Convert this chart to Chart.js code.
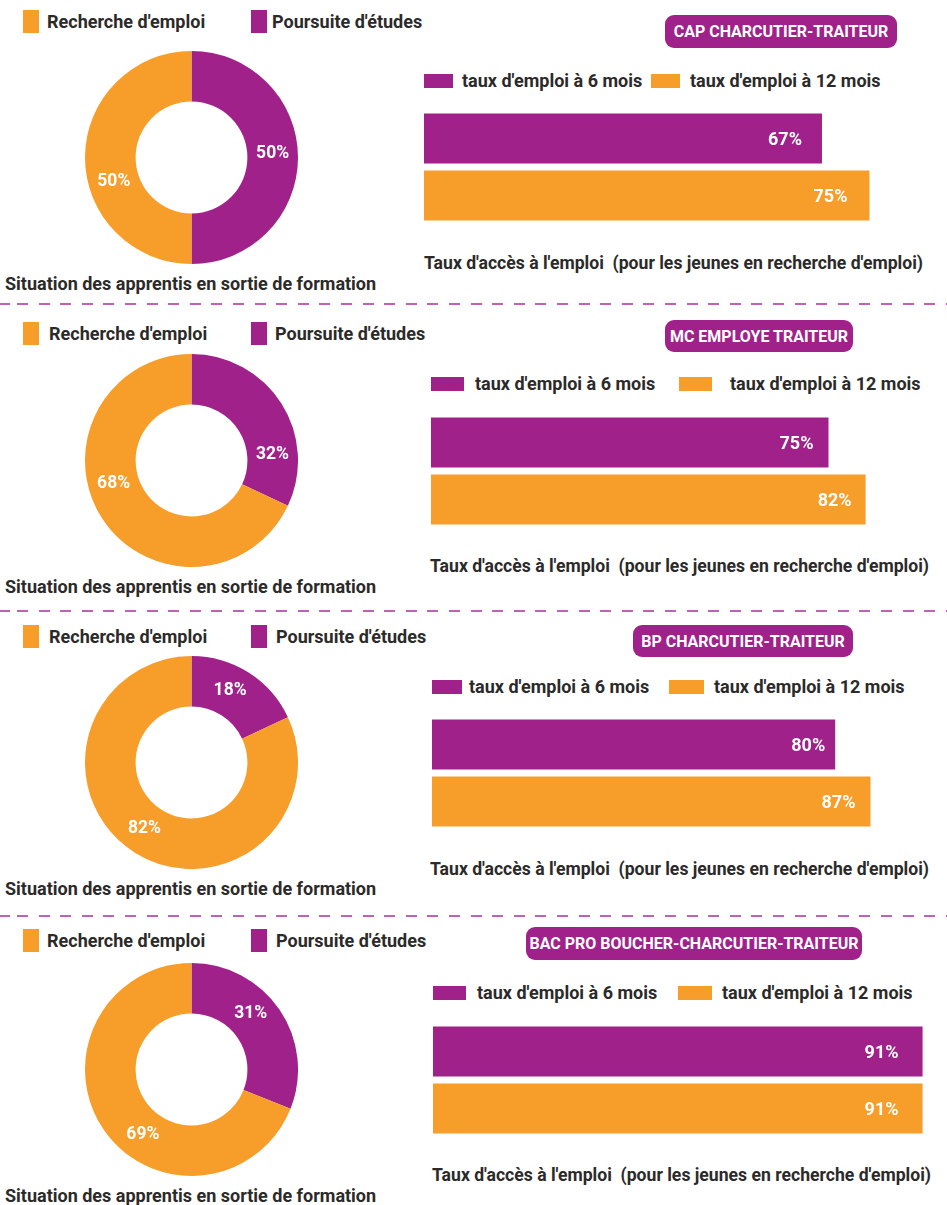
<!DOCTYPE html>
<html lang="fr">
<head>
<meta charset="utf-8">
<title>Situation des apprentis</title>
<script src="https://cdn.jsdelivr.net/npm/chart.js@4.4.1/dist/chart.umd.min.js"></script>
<style>
  html, body { margin: 0; padding: 0; background: #fff; }
  #page { position: relative; width: 947px; height: 1205px; overflow: hidden; font-family: Roboto, 'Noto Sans', sans-serif; font-weight: 700; color: #2b2a29; }
  .abs { position: absolute; }
  .txt { position: absolute; font-size: 18px; line-height: 20px; white-space: pre; }
  .foot { font-size: 17.6px; }
  .box { position: absolute; }
  .badge { position: absolute; background: #a02189; color: #fff; border-radius: 9px; font-size: 16px; display: flex; align-items: center; justify-content: center; white-space: nowrap; }
  .sep { position: absolute; left: 0; width: 947px; height: 2px;
         background: repeating-linear-gradient(90deg, #c062b4 0 11px, transparent 11px 21.6px);
         background-position: 17px 0; }
</style>
</head>
<body>
<div id="page"></div>
<script>
// data
const formations = ['CAP CHARCUTIER-TRAITEUR', 'MC EMPLOYE TRAITEUR', 'BP CHARCUTIER-TRAITEUR', 'BAC PRO BOUCHER-CHARCUTIER-TRAITEUR'];
const situationLabels = ["Poursuite d'études", "Recherche d'emploi"];
const poursuite = [50, 32, 18, 31];
const recherche = [50, 68, 82, 69];
const emploiLabels = ["taux d'emploi à 6 mois", "taux d'emploi à 12 mois"];
const emploi6 = [67, 75, 80, 91];
const emploi12 = [75, 82, 87, 91];
const situationTitle = 'Situation des apprentis en sortie de formation';
const emploiTitle = "Taux d'accès à l'emploi  (pour les jeunes en recherche d'emploi)";

const PURPLE = '#a02189';
const ORANGE = '#f79d29';

// layout of each block (pixels)
// labShift = degrees added to the slice mid angle for its % label, labInset = gap between bar end and its label
const layouts = [
  { cy: 157.5, legTop: 10, legTx: [47, 272], titleY: 284, badge: [665, 15, 232, 33], blTop: 74, bl: [424, 29, 462, 651, 29, 690], barX: 424, barTop: 113, scale: 5.94, footX: 424, footY: 263, labShift: [-3, -17], labInset: [20, 22] },
  { cy: 460.5, legTop: 322, legTx: [49, 275], titleY: 587, badge: [665, 320, 188, 32], blTop: 377, bl: [431, 33, 475, 679, 33, 730], barX: 431, barTop: 417, scale: 5.3, footX: 430, footY: 566, labShift: [28, 16], labInset: [15, 14] },
  { cy: 762.5, legTop: 625, legTx: [49, 276], titleY: 889, badge: [633, 625, 220, 32], blTop: 680, bl: [432, 30, 469, 669, 35, 714], barX: 432, barTop: 719, scale: 5.04, footX: 430, footY: 869, labShift: [-4, 3], labInset: [10, 15] },
  { cy: 1069, legTop: 929, legTx: [47, 276], titleY: 1196, badge: [526, 927, 336, 33], blTop: 986, bl: [433, 33, 477, 678, 34, 722], barX: 433, barTop: 1026, scale: 5.38, footX: 432, footY: 1175, labShift: [-9, -19], labInset: [24, 24] }
];
const separators = [302.5, 609.5, 914.5];

const page = document.getElementById('page');

function el(cls, css, text) {
  const d = document.createElement('div');
  d.className = cls;
  Object.assign(d.style, css);
  if (text) d.textContent = text;
  page.appendChild(d);
  return d;
}

// percent labels drawn on the arcs / bars
const arcLabels = {
  id: 'arcLabels',
  afterDatasetsDraw(chart, args, opts) {
    const ctx = chart.ctx;
    const meta = chart.getDatasetMeta(0);
    const shift = opts.shift || [];
    ctx.save();
    ctx.fillStyle = '#fff';
    ctx.font = 'bold 17.5px Roboto';
    ctx.textAlign = 'center';
    ctx.textBaseline = 'middle';
    meta.data.forEach((arc, i) => {
      const a = (arc.startAngle + arc.endAngle) / 2 + (shift[i] || 0) * Math.PI / 180;
      const r = (arc.innerRadius + arc.outerRadius) / 2;
      ctx.fillText(chart.data.datasets[0].data[i] + '%', arc.x + r * Math.cos(a), arc.y + r * Math.sin(a));
    });
    ctx.restore();
  }
};

const barLabels = {
  id: 'barLabels',
  afterDatasetsDraw(chart, args, opts) {
    const ctx = chart.ctx;
    const inset = opts.inset || [];
    ctx.save();
    ctx.fillStyle = '#fff';
    ctx.font = 'bold 18px Roboto';
    ctx.textAlign = 'right';
    ctx.textBaseline = 'middle';
    chart.data.datasets.forEach((ds, d) => {
      chart.getDatasetMeta(d).data.forEach((bar, i) => {
        ctx.fillText(ds.data[i] + '%', bar.x - (inset[d] || 20), bar.y + 2);
      });
    });
    ctx.restore();
  }
};

separators.forEach(y => el('sep', { top: y + 'px' }));

layouts.forEach((L, k) => {
  // doughnut legend (Recherche first, then Poursuite)
  el('box', { left: '23px', top: L.legTop + 'px', width: '16px', height: '23px', background: ORANGE });
  el('txt', { left: L.legTx[0] + 'px', top: (L.legTop + 2) + 'px' }, situationLabels[1]);
  el('box', { left: '251px', top: L.legTop + 'px', width: '16px', height: '23px', background: PURPLE });
  el('txt', { left: L.legTx[1] + 'px', top: (L.legTop + 2) + 'px' }, situationLabels[0]);

  // doughnut
  const size = 213;
  const c1 = document.createElement('canvas');
  c1.width = size; c1.height = size;
  c1.className = 'abs';
  c1.style.left = (191.5 - size / 2) + 'px';
  c1.style.top = (L.cy - size / 2) + 'px';
  page.appendChild(c1);
  new Chart(c1, {
    type: 'doughnut',
    data: {
      labels: situationLabels,
      datasets: [{
        data: [poursuite[k], recherche[k]],
        backgroundColor: [PURPLE, ORANGE],
        borderWidth: 0
      }]
    },
    options: {
      responsive: false,
      animation: false,
      devicePixelRatio: 1,
      cutout: '52.5%',
      layout: { padding: 0 },
      plugins: { legend: { display: false }, tooltip: { enabled: false }, arcLabels: { shift: L.labShift } }
    },
    plugins: [arcLabels]
  });

  el('txt', { left: '5px', top: (L.titleY - 10) + 'px' }, situationTitle);

  // formation badge
  el('badge', { left: L.badge[0] + 'px', top: L.badge[1] + 'px', width: L.badge[2] + 'px', height: L.badge[3] + 'px' }, formations[k]);

  // bar legend
  el('box', { left: L.bl[0] + 'px', top: L.blTop + 'px', width: L.bl[1] + 'px', height: '14px', background: PURPLE });
  el('txt', { left: L.bl[2] + 'px', top: (L.blTop - 3) + 'px' }, emploiLabels[0]);
  el('box', { left: L.bl[3] + 'px', top: L.blTop + 'px', width: L.bl[4] + 'px', height: '14px', background: ORANGE });
  el('txt', { left: L.bl[5] + 'px', top: (L.blTop - 3) + 'px' }, emploiLabels[1]);

  // horizontal bars
  const w = 947 - L.barX, h = 114;
  const c2 = document.createElement('canvas');
  c2.width = w; c2.height = h;
  c2.className = 'abs';
  c2.style.left = L.barX + 'px';
  c2.style.top = (L.barTop - 3.5) + 'px';
  page.appendChild(c2);
  new Chart(c2, {
    type: 'bar',
    data: {
      labels: [formations[k]],
      datasets: [
        { label: emploiLabels[0], data: [emploi6[k]], backgroundColor: PURPLE },
        { label: emploiLabels[1], data: [emploi12[k]], backgroundColor: ORANGE }
      ]
    },
    options: {
      indexAxis: 'y',
      responsive: false,
      animation: false,
      devicePixelRatio: 1,
      layout: { padding: 0 },
      datasets: { bar: { categoryPercentage: 1, barPercentage: 50 / 57 } },
      scales: {
        x: { display: false, min: 0, max: w / L.scale },
        y: { display: false }
      },
      plugins: { legend: { display: false }, tooltip: { enabled: false }, barLabels: { inset: L.labInset } }
    },
    plugins: [barLabels]
  });

  el('txt foot', { left: L.footX + 'px', top: (L.footY - 10) + 'px' }, emploiTitle);
});
</script>
</body>
</html>
